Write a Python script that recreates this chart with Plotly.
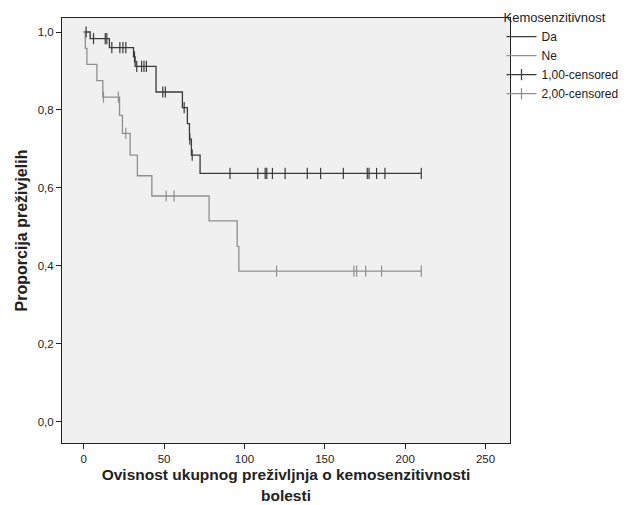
import numpy as np
import plotly.graph_objects as go

# ---- data ----
da_times = [0, 4, 16, 31, 32, 45, 61.4, 64.5, 65.8, 67, 72.4, 210]
da_surv = [1.0, 0.983, 0.96, 0.936, 0.912, 0.846, 0.806, 0.765, 0.725, 0.684, 0.637, 0.637]
da_censored = [1.5, 6.1, 13.4, 14.4, 17.5, 22.5, 24.4, 26.2, 31.6, 33, 36, 37.5, 39,
               49.2, 50.8, 62.5, 66, 67.5, 91.0, 108.3, 112.9, 113.9, 117.4, 125.3,
               139.1, 147.4, 161.5, 176.4, 177.5, 182.2, 187.4, 210]

ne_times = [0, 1, 2, 8.2, 11.9, 22.3, 24.1, 28.9, 33.4, 42.4, 78, 95.5, 96.5, 210]
ne_surv = [1.0, 0.958, 0.917, 0.875, 0.833, 0.786, 0.74, 0.684, 0.631, 0.579, 0.515, 0.45, 0.386, 0.386]
ne_censored = [12.3, 21.6, 26.2, 51.3, 56.2, 120, 168.1, 169.8, 175.4, 185.3, 210]

group_names = ["Da", "Ne"]
censor_names = ["1,00-censored", "2,00-censored"]
y_tick_vals = [0.0, 0.2, 0.4, 0.6, 0.8, 1.0]
y_tick_text = ["0,0", "0,2", "0,4", "0,6", "0,8", "1,0"]
x_tick_vals = [0, 50, 100, 150, 200, 250]
x_tick_text = ["0", "50", "100", "150", "200", "250"]

DA_COLOR = "#3a3a3a"
NE_COLOR = "#8f8f8f"
FONT = "Liberation Sans, Arial, sans-serif"


def step_value(times, surv, t):
    idx = np.searchsorted(np.asarray(times), t, side="right") - 1
    return surv[max(idx, 0)]


def gapped(times, surv, cens):
    xs, ys = [], []
    for t in cens:
        xs += [t, None]
        ys += [step_value(times, surv, t), None]
    return xs, ys


fig = go.Figure()
fig.add_trace(go.Scatter(x=da_times, y=da_surv, mode="lines", line=dict(shape="hv", color=DA_COLOR, width=1.3),
                         name=group_names[0]))
fig.add_trace(go.Scatter(x=ne_times, y=ne_surv, mode="lines", line=dict(shape="hv", color=NE_COLOR, width=1.3),
                         name=group_names[1]))

cx, cy = gapped(da_times, da_surv, da_censored)
fig.add_trace(go.Scatter(x=cx, y=cy, mode="lines+markers", connectgaps=False,
                         line=dict(color=DA_COLOR, width=1.3),
                         marker=dict(symbol="line-ns", size=8, color=DA_COLOR, line=dict(width=1.2, color=DA_COLOR)),
                         name=censor_names[0]))
cx, cy = gapped(ne_times, ne_surv, ne_censored)
fig.add_trace(go.Scatter(x=cx, y=cy, mode="lines+markers", connectgaps=False,
                         line=dict(color=NE_COLOR, width=1.3),
                         marker=dict(symbol="line-ns", size=8, color=NE_COLOR, line=dict(width=1.2, color=NE_COLOR)),
                         name=censor_names[1]))

fig.update_layout(
    width=630, height=505,
    margin=dict(l=62, r=120, t=18, b=62, autoexpand=False),
    paper_bgcolor="white",
    plot_bgcolor="#f0f0f1",
    font=dict(family=FONT, color="#222222"),
    showlegend=True,
    legend=dict(
        title=dict(text="Kemosenzitivnost", font=dict(size=13, color="#222222")),
        x=0.981, xanchor="left", y=1.03, yanchor="top",
        bgcolor="rgba(0,0,0,0)", font=dict(size=12, color="#222222"),
        tracegroupgap=0,
    ),
    xaxis=dict(
        range=[-13.5, 265.2], tickvals=x_tick_vals, ticktext=x_tick_text,
        showgrid=False, zeroline=False, showline=True, linecolor="#222222", linewidth=1, mirror=True,
        ticks="outside", ticklen=5, tickcolor="#222222", tickfont=dict(size=11.5, color="#222222"),
        title=dict(text="<b>Ovisnost ukupnog preživljnja o kemosenzitivnosti</b>",
                   font=dict(size=15.5, color="#222222"), standoff=5),
    ),
    yaxis=dict(
        range=[-0.055, 1.036], tickvals=y_tick_vals, ticktext=y_tick_text,
        showgrid=False, zeroline=False, showline=True, linecolor="#222222", linewidth=1, mirror=True,
        ticks="outside", ticklen=5, tickcolor="#222222", tickfont=dict(size=11.5, color="#222222"),
        title=dict(text="<b>Proporcija preživjelih</b>", font=dict(size=16, color="#222222"), standoff=6),
    ),
    annotations=[dict(text="<b>bolesti</b>", xref="paper", yref="paper", x=0.5, y=0, yshift=-62,
                      xanchor="center", yanchor="bottom", showarrow=False, borderpad=0,
                      font=dict(size=15.5, color="#222222", family=FONT))],
)

fig.write_html("out.html", config={"displayModeBar": False},
               post_script="document.body.style.margin='0px';")
